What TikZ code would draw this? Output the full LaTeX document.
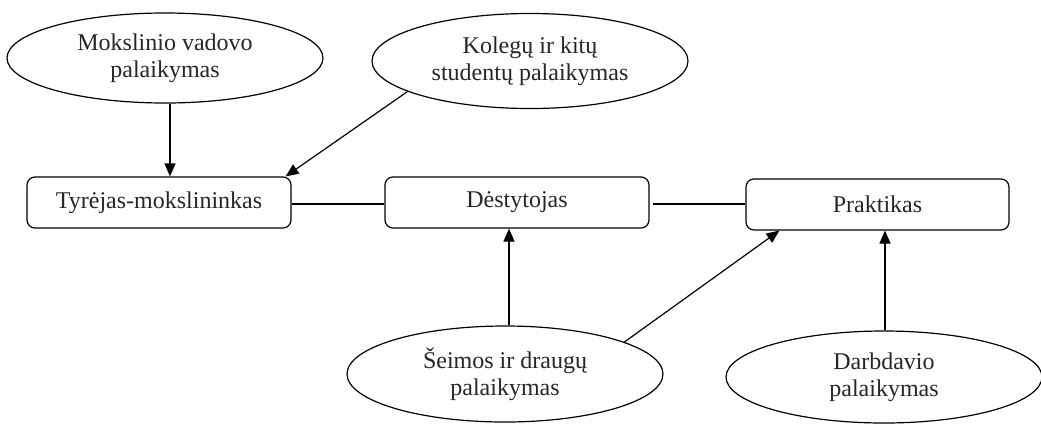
\documentclass[tikz,border=0pt]{standalone}
\usepackage{fontspec}
\setmainfont{Liberation Serif}
\usetikzlibrary{shapes.geometric,arrows.meta}
\begin{document}
\begin{tikzpicture}[x=1pt,y=-1pt,
  every node/.style={font=\fontsize{24}{27}\selectfont, text=black!85},
  oval/.style={ellipse, draw, line width=1.2pt, inner sep=0pt, minimum width=316pt, minimum height=90pt, align=center},
  rbox/.style={rectangle, draw, rounded corners=8pt, line width=1.2pt, minimum height=51pt, inner sep=0pt},
  conn/.style={line width=1.2pt},
  arr/.style={line width=1.2pt, -{Triangle[length=13pt,width=11pt]}}]
\useasboundingbox (0,0) rectangle (1041,424);
\node[oval] (e1) at (165,58) {Mokslinio vadovo\\palaikymas};
\node[oval, minimum height=95pt] (e2) at (530,61) {Kolegų ir kitų\\studentų palaikymas};
\node[oval, minimum height=96pt] (e3) at (505,374) {Šeimos ir draugų\\palaikymas};
\node[oval, minimum height=92pt] (e4) at (884,377) {Darbdavio\\palaikymas};
\node[rbox, minimum width=264pt] (b1) at (159,202.5) {Tyrėjas-mokslininkas};
\node[rbox, minimum width=264pt] (b2) at (517,202.5) {Dėstytojas};
\node[rbox, minimum width=263pt] (b3) at (877.5,204.5) {Praktikas};
\draw[conn] ([yshift=-1.5]b1.east) -- ([yshift=-1.5]b2.west);
\draw[conn] ([xshift=3,yshift=-1.5]b2.east) -- ([yshift=-1.5]b2.east -| b3.west);
\draw[arr] ([xshift=5]e1.south) -- ([xshift=5]e1.south |- b1.north);
\draw[arr] (e2.194) -- ([xshift=-6]b1.north east);
\draw[arr] ([xshift=4]e3.north) -- ([xshift=4]e3.north |- b2.south);
\draw[arr] (e3.15) -- ([xshift=34]b3.south west);
\draw[arr] ([xshift=1]e4.north) -- ([xshift=1]e4.north |- b3.south);
\end{tikzpicture}
\end{document}
